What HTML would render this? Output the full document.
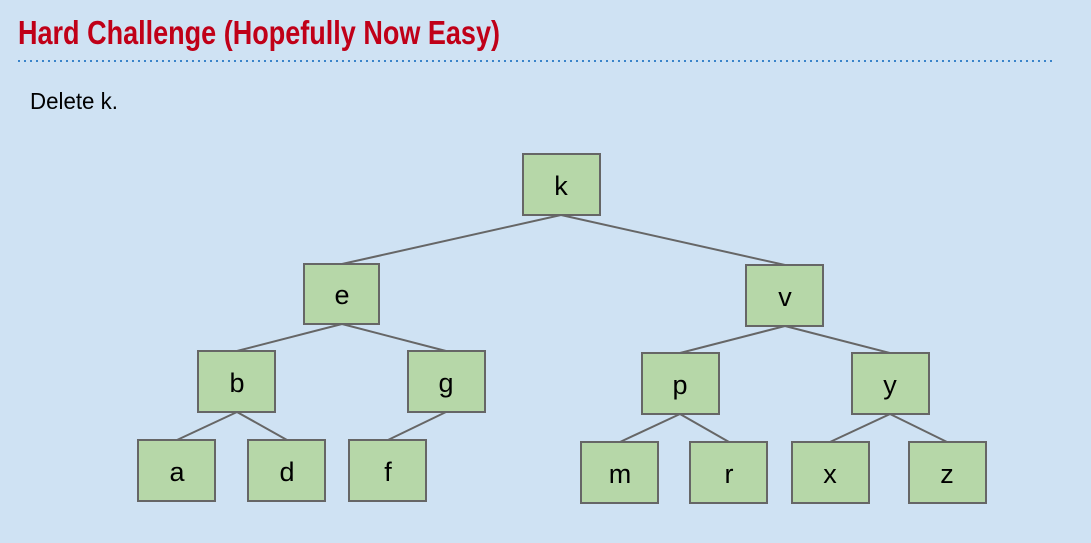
<!DOCTYPE html>
<html><head><meta charset="utf-8"><style>
html,body{margin:0;padding:0;background:#cfe2f3;}
svg{display:block}
</style></head><body>
<svg width="1091" height="543" xmlns="http://www.w3.org/2000/svg">
<rect width="1091" height="543" fill="#cfe2f3"/>
<text x="18" y="44" font-family="Liberation Sans, sans-serif" font-weight="bold" font-size="33" fill="#c00018" textLength="482" lengthAdjust="spacingAndGlyphs">Hard Challenge (Hopefully Now Easy)</text>
<line x1="18" y1="61" x2="1052" y2="61" stroke="#3a84c9" stroke-width="2" stroke-dasharray="2,4"/>
<text x="30" y="109" font-family="Liberation Sans, sans-serif" font-size="23" fill="#000" textLength="88" lengthAdjust="spacingAndGlyphs">Delete k.</text>
<g stroke="#666" stroke-width="2">
<line x1="561" y1="215" x2="342" y2="264"/>
<line x1="561" y1="215" x2="785" y2="265"/>
<line x1="342" y1="324" x2="237" y2="351"/>
<line x1="342" y1="324" x2="446" y2="351"/>
<line x1="237" y1="412" x2="177" y2="440"/>
<line x1="237" y1="412" x2="287" y2="440"/>
<line x1="446" y1="412" x2="388" y2="440"/>
<line x1="785" y1="326" x2="680" y2="353"/>
<line x1="785" y1="326" x2="890" y2="353"/>
<line x1="680" y1="414" x2="620" y2="442"/>
<line x1="680" y1="414" x2="729" y2="442"/>
<line x1="890" y1="414" x2="830" y2="442"/>
<line x1="890" y1="414" x2="947" y2="442"/>
</g>
<g fill="#b6d7a8" stroke="#666" stroke-width="2">
<rect x="523" y="154" width="77" height="61"/>
<rect x="304" y="264" width="75" height="60"/>
<rect x="746" y="265" width="77" height="61"/>
<rect x="198" y="351" width="77" height="61"/>
<rect x="408" y="351" width="77" height="61"/>
<rect x="642" y="353" width="77" height="61"/>
<rect x="852" y="353" width="77" height="61"/>
<rect x="138" y="440" width="77" height="61"/>
<rect x="248" y="440" width="77" height="61"/>
<rect x="349" y="440" width="77" height="61"/>
<rect x="581" y="442" width="77" height="61"/>
<rect x="690" y="442" width="77" height="61"/>
<rect x="792" y="442" width="77" height="61"/>
<rect x="909" y="442" width="77" height="61"/>
</g>
<g font-family="Liberation Sans, sans-serif" font-size="27" fill="#000" text-anchor="middle">
<text x="561" y="195">k</text>
<text x="342" y="304">e</text>
<text x="785" y="306">v</text>
<text x="237" y="392">b</text>
<text x="446" y="392">g</text>
<text x="680" y="394">p</text>
<text x="890" y="394">y</text>
<text x="177" y="481">a</text>
<text x="287" y="481">d</text>
<text x="388" y="481">f</text>
<text x="620" y="483">m</text>
<text x="729" y="483">r</text>
<text x="830" y="483">x</text>
<text x="947" y="483">z</text>
</g>
</svg>
</body></html>
